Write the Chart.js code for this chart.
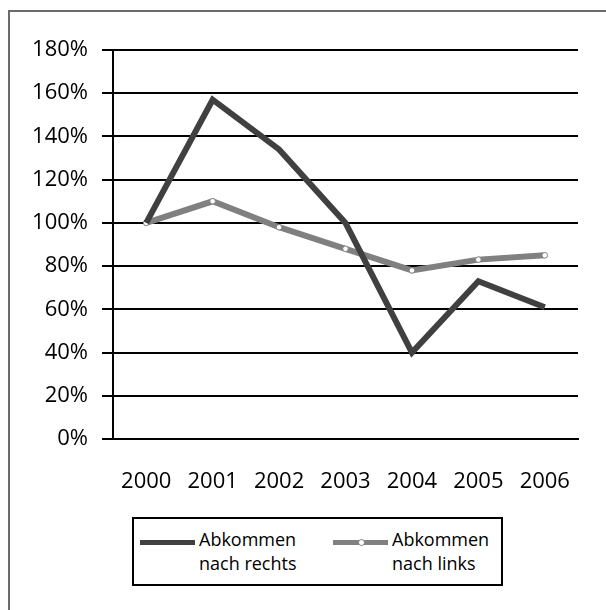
<!DOCTYPE html>
<html>
<head>
<meta charset="utf-8">
<script src="https://cdn.jsdelivr.net/npm/chart.js@4/dist/chart.umd.min.js"></script>
<style>
  html, body { margin: 0; padding: 0; background: #fff; }
  body { width: 606px; height: 610px; position: relative; overflow: hidden; font-family: "Open Sans", sans-serif; }
  .frame { position: absolute; left: 8px; top: 10px; width: 620px; height: 620px;
           border-top: 2px solid #6b6b6b; border-left: 2px solid #6b6b6b; }
  .chart-wrap { position: absolute; left: 0; top: 0; width: 606px; height: 505px; }
  .legend { position: absolute; left: 132px; top: 517px; width: 367px; height: 65px;
            border: 2px solid #000; font-size: 18px; line-height: 24px; color: #000; }
  .legend .item { position: absolute; top: 8px; }
  .legend .swatch { position: absolute; top: 13px; height: 5px; }
  .legend .dot { position: absolute; top: -1px; width: 5px; height: 5px; border-radius: 50%;
                 background: #fff; border: 1px solid #808080; }
  .legend .label { position: absolute; top: 0; white-space: nowrap; }
</style>
</head>
<body>
<div class="frame"></div>
<div class="chart-wrap"><canvas id="myChart" width="606" height="505"></canvas></div>
<div class="legend" id="legend"></div>

<script>
const years = ["2000", "2001", "2002", "2003", "2004", "2005", "2006"];
const rechts = [100, 157, 134, 100, 40, 73, 61];
const links = [100, 110, 98, 88, 78, 83, 85];
const seriesNames = [["Abkommen", "nach rechts"], ["Abkommen", "nach links"]];
const seriesColors = ["#404040", "#808080"];

Chart.defaults.font.family = "'Open Sans', sans-serif";
Chart.defaults.color = "#000";

const ctx = document.getElementById("myChart").getContext("2d");
const myChart = new Chart(ctx, {
  type: "line",
  data: {
    labels: years,
    datasets: [
      {
        label: seriesNames[0].join(" "),
        data: rechts,
        borderColor: seriesColors[0],
        borderWidth: 6,
        pointRadius: 0,
        tension: 0,
      },
      {
        label: seriesNames[1].join(" "),
        data: links,
        borderColor: seriesColors[1],
        borderWidth: 6,
        pointRadius: 2.8,
        pointBackgroundColor: "#fff",
        pointBorderColor: seriesColors[1],
        pointBorderWidth: 1,
        tension: 0,
      },
    ],
  },
  options: {
    responsive: false,
    animation: false,
    layout: { padding: { top: 50, right: 28, left: 0, bottom: 0 } },
    plugins: { legend: { display: false }, tooltip: { enabled: false } },
    scales: {
      x: {
        offset: true,
        grid: { display: false },
        border: { display: true, color: "#000", width: 2 },
        ticks: { font: { size: 22 }, padding: 22, maxRotation: 0, autoSkip: false },
        afterFit: (scale) => { scale.height = 66; },
      },
      y: {
        min: 0,
        max: 180,
        ticks: {
          stepSize: 20,
          font: { size: 22 },
          padding: 14,
          callback: (v) => v + "%",
        },
        grid: { color: "#000", lineWidth: 2, tickLength: 11, tickColor: "#000" },
        border: { display: true, color: "#000", width: 2 },
        afterFit: (scale) => { scale.width = 113; },
      },
    },
  },
});

// legend drawn beside the canvas, two-line labels
const legendEl = document.getElementById("legend");
const legendPos = [
  { swatch: 6, width: 55, text: 65 },
  { swatch: 199, width: 55, text: 258 },
];
seriesNames.forEach((lines, i) => {
  const item = document.createElement("div");
  item.className = "item";
  const sw = document.createElement("div");
  sw.className = "swatch";
  sw.style.left = legendPos[i].swatch + "px";
  sw.style.width = legendPos[i].width + "px";
  sw.style.background = seriesColors[i];
  if (i === 1) {
    const dot = document.createElement("div");
    dot.className = "dot";
    dot.style.left = (legendPos[i].width / 2 - 3) + "px";
    sw.appendChild(dot);
  }
  const label = document.createElement("div");
  label.className = "label";
  label.style.left = legendPos[i].text + "px";
  label.innerHTML = lines.join("<br>");
  item.appendChild(sw);
  item.appendChild(label);
  legendEl.appendChild(item);
});
</script>
</body>
</html>
